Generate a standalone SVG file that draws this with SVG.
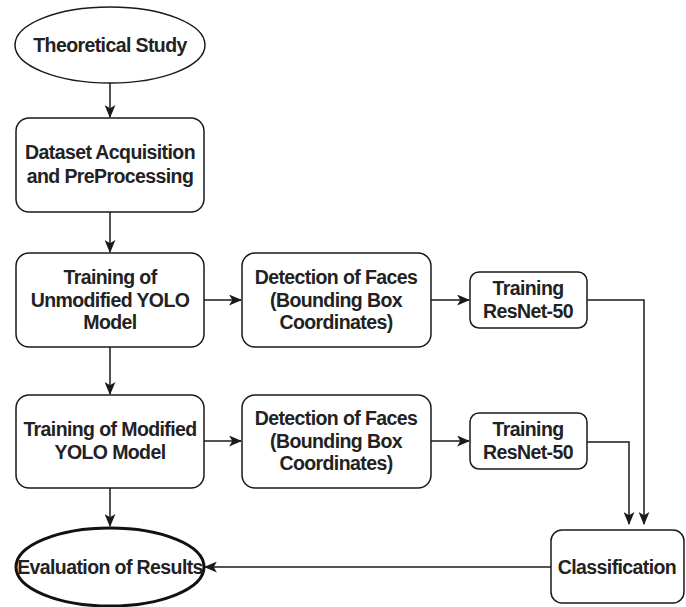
<svg xmlns="http://www.w3.org/2000/svg" width="686" height="607" viewBox="0 0 686 607">
<defs>
<style>
.box{fill:#fff;stroke:#1a1a1a;stroke-width:1.5}
.thick{fill:#fff;stroke:#111;stroke-width:3}
.t{font-family:"Liberation Sans",Arial,sans-serif;font-weight:bold;font-size:19.5px;fill:#222;text-anchor:middle;letter-spacing:-0.6px}
.c{fill:none;stroke:#1a1a1a;stroke-width:1.5}
</style>
<marker id="ah" viewBox="0 0 12 10" refX="11" refY="5" markerWidth="13" markerHeight="11" markerUnits="userSpaceOnUse" orient="auto">
<path d="M0,0 L12,5 L0,10 L3,5 Z" fill="#1a1a1a"/>
</marker>
</defs>
<rect width="686" height="607" fill="#fff"/>
<g id="connectors">
<path class="c" d="M110,83 V117" marker-end="url(#ah)"/>
<path class="c" d="M110,212 V252" marker-end="url(#ah)"/>
<path class="c" d="M110,347 V394" marker-end="url(#ah)"/>
<path class="c" d="M110,488 V526" marker-end="url(#ah)"/>
<path class="c" d="M204,300 H241" marker-end="url(#ah)"/>
<path class="c" d="M431,300 H469" marker-end="url(#ah)"/>
<path class="c" d="M587,300 H644 V524" marker-end="url(#ah)"/>
<path class="c" d="M204,441 H241" marker-end="url(#ah)"/>
<path class="c" d="M431,441 H469" marker-end="url(#ah)"/>
<path class="c" d="M587,442 H629 V524" marker-end="url(#ah)"/>
<path class="c" d="M551,567 H205" stroke="#555" marker-end="url(#ah)"/>
</g>
<g id="theoretical-study">
<ellipse class="box" cx="110" cy="45" rx="95" ry="38"/>
<text class="t" x="110" y="52">Theoretical Study</text>
</g>
<g id="dataset">
<rect class="box" x="16" y="118" width="188" height="94" rx="13"/>
<text class="t" x="110" y="159">Dataset Acquisition</text>
<text class="t" x="110" y="183">and PreProcessing</text>
</g>
<g id="train-unmod">
<rect class="box" x="16" y="253" width="188" height="94" rx="13"/>
<text class="t" x="110" y="284">Training of</text>
<text class="t" x="110" y="307">Unmodified YOLO</text>
<text class="t" x="110" y="329">Model</text>
</g>
<g id="detect1">
<rect class="box" x="242" y="253" width="189" height="94" rx="13"/>
<text class="t" x="336" y="284">Detection of Faces</text>
<text class="t" x="336" y="307">(Bounding Box</text>
<text class="t" x="336" y="329">Coordinates)</text>
</g>
<g id="resnet1">
<rect class="box" x="470" y="272" width="117" height="56" rx="9"/>
<text class="t" x="528" y="295">Training</text>
<text class="t" x="528" y="318">ResNet-50</text>
</g>
<g id="train-mod">
<rect class="box" x="16" y="395" width="188" height="93" rx="13"/>
<text class="t" x="110" y="436">Training of Modified</text>
<text class="t" x="110" y="459">YOLO Model</text>
</g>
<g id="detect2">
<rect class="box" x="242" y="395" width="189" height="93" rx="13"/>
<text class="t" x="336" y="425">Detection of Faces</text>
<text class="t" x="336" y="448">(Bounding Box</text>
<text class="t" x="336" y="470">Coordinates)</text>
</g>
<g id="resnet2">
<rect class="box" x="470" y="413" width="117" height="56" rx="9"/>
<text class="t" x="528" y="436">Training</text>
<text class="t" x="528" y="459">ResNet-50</text>
</g>
<g id="classification">
<rect class="box" x="551" y="530" width="133" height="73" rx="11"/>
<text class="t" x="617" y="574">Classification</text>
</g>
<g id="evaluation">
<ellipse class="thick" cx="110" cy="567" rx="94" ry="39"/>
<text class="t" x="110" y="574">Evaluation of Results</text>
</g>
</svg>
